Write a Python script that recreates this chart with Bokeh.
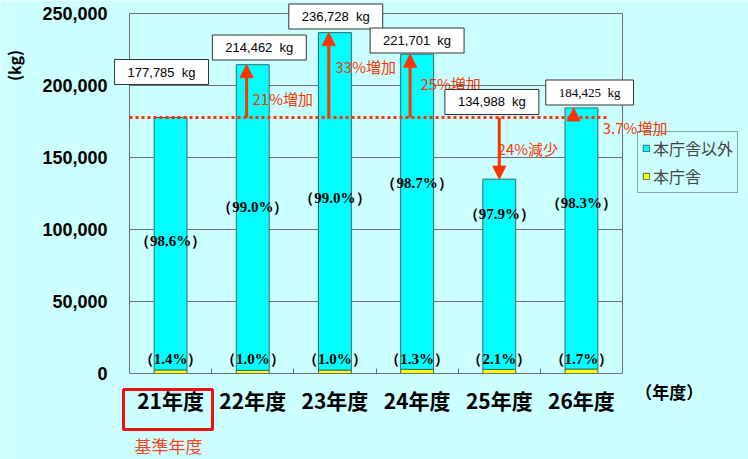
import math
from bokeh.plotting import figure
from bokeh.models import (ColumnDataSource, FixedTicker, NumeralTickFormatter, Label, LabelSet,
                          Arrow, NormalHead, BoxAnnotation, Legend, LegendItem, LinearAxis)
from bokeh.core.properties import value
from bokeh.embed import file_html
from bokeh.resources import INLINE

# ---------------- data ----------------
years = ["21年度", "22年度", "23年度", "24年度", "25年度", "26年度"]
total_kg = [177785, 214462, 236728, 221701, 134988, 184425]
honcho_kg = [2489, 2145, 2367, 2882, 2835, 3135]
other_kg = [175296, 212317, 234361, 218819, 132153, 181290]
other_pct = ["（98.6%）", "（99.0%）", "（99.0%）", "（98.7%）", "（97.9%）", "（98.3%）"]
honcho_pct = ["（1.4%）", "（1.0%）", "（1.0%）", "（1.3%）", "（2.1%）", "（1.7%）"]
change_labels = ["21%増加", "33%増加", "25%増加", "24%減少", "3.7%増加"]
base_kg = 177785
y_ticks = [0, 50000, 100000, 150000, 200000, 250000]

# ---------------- styles / positions ----------------
BG = "#CCFFFF"
CYAN = "#00FFFF"
YELLOW = "#FFFF00"
BAR_LINE = "#3A6A6A"
GRID = "#6E6E6E"
RED = "#FF3300"
JP = "Noto Sans CJK JP"
Y_TOP = 250000
N = len(years)

xs = [i + 0.5 for i in range(N)]

p = figure(width=748, height=459, output_backend="svg", toolbar_location=None,
           x_range=(-1.5699, 7.5331), y_range=(-59722, 259028),
           min_border_left=0, min_border_right=0, min_border_top=0, min_border_bottom=0)
p.background_fill_color = BG
p.border_fill_color = BG
p.outline_line_color = None
p.grid.visible = False

# horizontal grid lines (plot area only)
p.segment(x0=[0] * (len(y_ticks) - 1), x1=[N] * (len(y_ticks) - 1), y0=y_ticks[1:], y1=y_ticks[1:],
          line_color=GRID, line_width=1)

src = ColumnDataSource(dict(x=xs, honcho=honcho_kg, other=other_kg, total=total_kg))
rs = p.vbar_stack(["honcho", "other"], x="x", width=0.4, source=src,
                  fill_color=[YELLOW, CYAN], line_color=BAR_LINE, line_width=1)

# y axis at x=0
p.yaxis.fixed_location = 0
p.yaxis.bounds = (0, Y_TOP)
p.yaxis.ticker = FixedTicker(ticks=y_ticks)
p.yaxis.formatter = NumeralTickFormatter(format="0,0")
p.yaxis.major_tick_line_color = None
p.yaxis.major_tick_out = 0
p.yaxis.major_tick_in = 0
p.yaxis.minor_tick_line_color = None
p.yaxis.axis_line_color = GRID
p.yaxis.major_label_standoff = 22
p.yaxis.major_label_text_font = "Liberation Sans"
p.yaxis.major_label_text_font_style = "bold"
p.yaxis.major_label_text_font_size = "18px"
p.yaxis.major_label_text_color = "black"

# right border as an axis at x=N
raxis = LinearAxis(fixed_location=N, bounds=(0, Y_TOP), ticker=FixedTicker(ticks=[]),
                   axis_line_color=GRID, major_tick_line_color=None, minor_tick_line_color=None,
                   major_label_text_alpha=0)
p.add_layout(raxis, "right")

# x axis at y=0
p.xaxis.fixed_location = 0
p.xaxis.bounds = (0, N)
p.xaxis.ticker = FixedTicker(ticks=xs, minor_ticks=list(range(1, N)))
p.xaxis.major_label_overrides = {x: y for x, y in zip(xs, years)}
p.xaxis.major_tick_line_color = None
p.xaxis.major_tick_out = 0
p.xaxis.minor_tick_in = 5
p.xaxis.minor_tick_out = 0
p.xaxis.minor_tick_line_color = GRID
p.xaxis.axis_line_color = GRID
p.xaxis.major_label_standoff = 11
p.xaxis.major_label_text_font = JP
p.xaxis.major_label_text_font_style = "bold"
p.xaxis.major_label_text_font_size = "21px"
p.xaxis.major_label_text_color = "black"

# reference dotted line
p.segment(x0=0, y0=base_kg, x1=5.83, y1=base_kg, line_color=RED, line_width=3, line_dash="3 3")

# arrows
arrow_dx = [-0.075, -0.075, -0.085, 0.0, -0.095]
arr_src = ColumnDataSource(dict(
    x=[xs[i + 1] + arrow_dx[i] for i in range(N - 1)],
    y0=[base_kg] * (N - 1),
    y1=total_kg[1:],
))
p.add_layout(Arrow(source=arr_src, x_start="x", y_start="y0", x_end="x", y_end="y1",
                   line_color=RED, line_width=3,
                   end=NormalHead(size=13, fill_color=RED, line_color=RED)))

# legend (transparent background so nearby text stays visible)
legend = Legend(items=[LegendItem(label="本庁舎以外", renderers=[rs[1]]),
                       LegendItem(label="本庁舎", renderers=[rs[0]])],
                location=(637, 266), background_fill_alpha=0, border_line_color="#444444",
                label_text_font=JP, label_text_font_size="16px", glyph_width=8, glyph_height=8,
                label_standoff=3, padding=4, spacing=4, margin=0, label_height=18)
p.add_layout(legend, "center")

# change labels
chg_x = [1.497, 2.507, 3.54, 4.48, 5.76]
chg_y = [190972, 213194, 201389, 156250, 170833]
p.add_layout(LabelSet(source=ColumnDataSource(dict(x=chg_x, y=chg_y, t=change_labels)),
                      x="x", y="y", text="t", text_align="left", text_baseline="middle",
                      text_color=RED, text_font=value(JP), text_font_size="15px"))

# value boxes
box_x = [0.39, 1.58, 2.51, 3.50, 4.41, 5.60]
box_y = [209375, 226389, 247917, 231250, 188542, 195139]
box_font = ["Liberation Sans"] * 5 + ["Liberation Serif"]
for i in range(N):
    p.add_layout(Label(x=box_x[i], y=box_y[i], text=f"{total_kg[i]:,}\u00a0\u00a0kg",
                       anchor="center", text_align="center", text_baseline="middle",
                       text_font=box_font[i], text_font_size="13px", text_color="black",
                       background_fill_color="white", border_line_color="#333333",
                       border_line_width=1, padding=(13, 5)))

# percentage labels
pct_y = [92361, 115972, 122222, 132639, 111111, 118056]
p.add_layout(LabelSet(source=ColumnDataSource(dict(x=xs, y=pct_y, t=other_pct)),
                      x="x", y="y", text="t", text_align="center", text_baseline="middle",
                      text_font=value("Liberation Serif"), text_font_style="bold",
                      text_font_size="15px", text_color="black"))
p.add_layout(LabelSet(source=ColumnDataSource(dict(x=xs, y=[10416] * N, t=honcho_pct)),
                      x="x", y="y", text="t", text_align="center", text_baseline="middle",
                      text_font=value("Liberation Serif"), text_font_style="bold",
                      text_font_size="15px", text_color="black"))

# base year red box and label
p.add_layout(BoxAnnotation(left=-0.073, right=1.01, top=-11111, bottom=-38889,
                           fill_alpha=0, line_alpha=1, line_color="#EE1111", line_width=3))
p.add_layout(Label(x=0.475, y=-50000, text="基準年度", text_align="center", text_baseline="middle",
                   text_font=JP, text_font_size="17px", text_color="#FF4422"))
p.add_layout(Label(x=6.57, y=-12500, text="（年度）", text_align="center", text_baseline="middle",
                   text_font=JP, text_font_style="bold", text_font_size="17px", text_color="black"))
p.add_layout(Label(x=-1.40, y=213889, text="(kg)", angle=math.pi / 2, text_align="center",
                   text_baseline="middle", text_font=JP, text_font_style="bold",
                   text_font_size="16px", text_color="black"))

open("out.html", "w").write(file_html(p, INLINE))
